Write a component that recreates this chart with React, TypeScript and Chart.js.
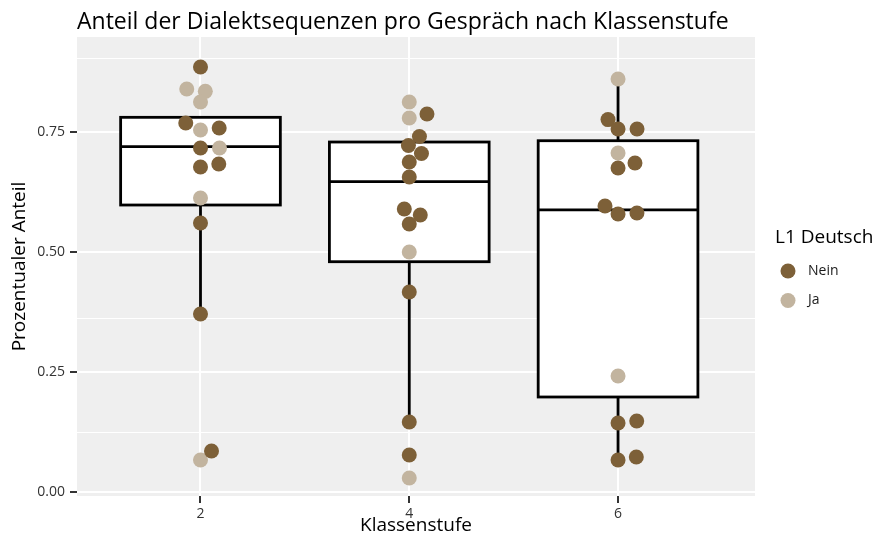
import React, { useEffect, useRef } from "react";
import { Chart, registerables } from "chart.js";

Chart.register(...registerables);

// ---------- text ----------
const chartTitle = "Anteil der Dialektsequenzen pro Gespräch nach Klassenstufe";
const xAxisTitle = "Klassenstufe";
const yAxisTitle = "Prozentualer Anteil";
const legendTitle = "L1 Deutsch";
const seriesNames = ["Nein", "Ja"];

// ---------- axes ----------
const grades = [2, 4, 6];
const xTicks = [2, 4, 6];
const yMajorTicks = [0, 0.25, 0.5, 0.75];
const yMinorLines = [0.125, 0.3625, 0.9025];

// ---------- points (share per conversation), one list per grade ----------
const neinValues = [
  [0.8841, 0.7677, 0.7573, 0.7158, 0.6825, 0.6763, 0.56, 0.3709, 0.0862],
  [0.7864, 0.7397, 0.721, 0.7043, 0.6867, 0.6555, 0.589, 0.5766, 0.5579, 0.4166, 0.1465, 0.0779],
  [0.7748, 0.7553, 0.7553, 0.6846, 0.6742, 0.5953, 0.5807, 0.5786, 0.1486, 0.1444, 0.0738, 0.0675],
];
const jaValues = [
  [0.8384, 0.8335, 0.8113, 0.7532, 0.7158, 0.6119, 0.0675],
  [0.8113, 0.7781, 0.4997, 0.0301],
  [0.8591, 0.7054, 0.2421],
];

// ---------- boxplot statistics per grade ----------
const boxQ1 = [0.5973, 0.4795, 0.1984];
const boxMedian = [0.7185, 0.6458, 0.587];
const boxQ3 = [0.7795, 0.7282, 0.7309];
const whiskerLow = [0.3709, 0.1465, 0.0675];
const whiskerHigh = [0.7795, 0.7282, 0.8591];

// ---------- style ----------
const FONT = "'Open Sans', sans-serif";
const colNein = "#7D6038";
const colJa = "#C2B49F";
const panelBg = "#EFEFEF";
const boxWidth = 1.53; // in grade units
const swarmSpacingX = 0.182; // grade units
const swarmSpacingY = 0.02295; // value units

function swarmOffsets(values: number[]): number[] {
  const order = values.map((_, i) => i).sort((a, b) => values[a] - values[b]);
  const placed: { y: number; x: number }[] = [];
  const out = new Array(values.length).fill(0);
  for (const i of order) {
    const y = values[i] / swarmSpacingY;
    const pre = placed.filter((p) => Math.abs(p.y - y) < 1);
    const plus = pre.map((p) => p.x + Math.sqrt(1 - (p.y - y) ** 2));
    const minus = pre.map((p) => p.x - Math.sqrt(1 - (p.y - y) ** 2));
    const cands = [0, ...plus, ...minus];
    let best = Infinity;
    for (const c of cands) {
      const bad = pre.some((p) => (c - p.x) ** 2 + (p.y - y) ** 2 < 0.999);
      if (!bad && Math.abs(c) < Math.abs(best)) best = c;
    }
    placed.push({ y, x: best });
    out[i] = best * swarmSpacingX;
  }
  return out;
}

function buildPoints() {
  const nein: { x: number; y: number }[] = [];
  const ja: { x: number; y: number }[] = [];
  grades.forEach((g, gi) => {
    const all = [...neinValues[gi], ...jaValues[gi]];
    const off = swarmOffsets(all);
    all.forEach((v, k) => {
      const pt = { x: g + off[k], y: v };
      if (k < neinValues[gi].length) nein.push(pt);
      else ja.push(pt);
    });
  });
  return { nein, ja };
}

const isMajorY = (v: number) => yMajorTicks.some((t) => Math.abs(t - v) < 1e-9);

const backgroundPlugin = {
  id: "panelBg",
  beforeDraw(chart: any) {
    const { ctx, chartArea } = chart;
    ctx.save();
    ctx.fillStyle = panelBg;
    ctx.fillRect(chartArea.left, chartArea.top, chartArea.right - chartArea.left, chartArea.bottom - chartArea.top);
    ctx.restore();
  },
};

const boxPlugin = {
  id: "boxplot",
  beforeDatasetsDraw(chart: any) {
    const { ctx } = chart;
    const xs = chart.scales.x;
    const ys = chart.scales.y;
    ctx.save();
    ctx.strokeStyle = "#000";
    ctx.lineWidth = 2.8;
    ctx.lineCap = "butt";
    grades.forEach((g, i) => {
      const cx = xs.getPixelForValue(g);
      const l = xs.getPixelForValue(g - boxWidth / 2);
      const r = xs.getPixelForValue(g + boxWidth / 2);
      const yq1 = ys.getPixelForValue(boxQ1[i]);
      const yq3 = ys.getPixelForValue(boxQ3[i]);
      const ymed = ys.getPixelForValue(boxMedian[i]);
      const ylo = ys.getPixelForValue(whiskerLow[i]);
      const yhi = ys.getPixelForValue(whiskerHigh[i]);
      ctx.beginPath();
      if (whiskerLow[i] < boxQ1[i]) {
        ctx.moveTo(cx, yq1);
        ctx.lineTo(cx, ylo);
      }
      if (whiskerHigh[i] > boxQ3[i]) {
        ctx.moveTo(cx, yq3);
        ctx.lineTo(cx, yhi);
      }
      ctx.stroke();
      ctx.fillStyle = "#FFFFFF";
      ctx.fillRect(l, yq3, r - l, yq1 - yq3);
      ctx.strokeRect(l, yq3, r - l, yq1 - yq3);
      ctx.beginPath();
      ctx.moveTo(l, ymed);
      ctx.lineTo(r, ymed);
      ctx.stroke();
    });
    ctx.restore();
  },
};

const legendPlugin = {
  id: "customLegend",
  afterDraw(chart: any) {
    const { ctx, chartArea } = chart;
    const x0 = chartArea.right + 20;
    ctx.save();
    ctx.fillStyle = "#000";
    ctx.font = `19px ${FONT}`;
    ctx.textAlign = "left";
    ctx.textBaseline = "alphabetic";
    ctx.fillText(legendTitle, x0, 243);
    const colors = [colNein, colJa];
    seriesNames.forEach((name, i) => {
      const cy = 271 + i * 29.5;
      ctx.beginPath();
      ctx.fillStyle = colors[i];
      ctx.arc(x0 + 13, cy, 7.5, 0, Math.PI * 2);
      ctx.fill();
      ctx.fillStyle = "#1A1A1A";
      ctx.font = `14px ${FONT}`;
      ctx.textBaseline = "middle";
      ctx.fillText(name, x0 + 33, cy);
    });
    ctx.restore();
  },
};

export default function App() {
  const ref = useRef<HTMLCanvasElement>(null);
  useEffect(() => {
    if (!ref.current) return;
    const { nein, ja } = buildPoints();
    const chart = new Chart(ref.current, {
      type: "scatter",
      data: {
        datasets: [
          { label: seriesNames[0], data: nein, backgroundColor: colNein, borderWidth: 0, pointRadius: 7.5, pointHoverRadius: 7.5 },
          { label: seriesNames[1], data: ja, backgroundColor: colJa, borderWidth: 0, pointRadius: 7.5, pointHoverRadius: 7.5 },
        ],
      },
      options: {
        responsive: false,
        animation: false,
        events: [],
        layout: { padding: { left: 0, right: 126, top: 0, bottom: 0 } },
        plugins: {
          legend: { display: false },
          tooltip: { enabled: false },
          title: {
            display: true,
            text: chartTitle,
            align: "start",
            fullSize: false,
            color: "#000",
            font: { family: FONT, size: 23, weight: "normal" },
            padding: { top: 9, bottom: 0.4 },
          },
        },
        scales: {
          x: {
            type: "linear",
            min: 0.817,
            max: 7.312,
            afterBuildTicks: (s: any) => {
              s.ticks = xTicks.map((v) => ({ value: v }));
            },
            afterFit: (s: any) => {
              s.height = 42;
            },
            ticks: {
              autoSkip: false,
              maxRotation: 0,
              padding: 3,
              color: "#333333",
              font: { family: FONT, size: 14 },
              callback: (v: any) => String(v),
            },
            grid: { color: "#FFFFFF", lineWidth: 2, tickColor: "#333333", tickLength: 7, tickWidth: 2 },
            border: { display: false },
            title: {
              display: true,
              text: xAxisTitle,
              color: "#000",
              font: { family: FONT, size: 19, weight: "normal" },
              padding: { top: 0, bottom: 1 },
            },
          },
          y: {
            type: "linear",
            min: -0.0073,
            max: 0.9464,
            afterBuildTicks: (s: any) => {
              s.ticks = [...yMajorTicks, ...yMinorLines].sort((a, b) => a - b).map((v) => ({ value: v }));
            },
            afterFit: (s: any) => {
              s.width = 77;
            },
            ticks: {
              autoSkip: false,
              padding: 5,
              color: "#333333",
              font: { family: FONT, size: 14 },
              callback: (v: any) => (isMajorY(v) ? Number(v).toFixed(2) : ""),
            },
            grid: {
              color: "#FFFFFF",
              lineWidth: (c: any) => (c.tick && isMajorY(c.tick.value) ? 2 : 1),
              tickColor: (c: any) => (c.tick && isMajorY(c.tick.value) ? "#333333" : "rgba(0,0,0,0)"),
              tickLength: 7,
              tickWidth: 2,
            },
            border: { display: false },
            title: {
              display: true,
              text: yAxisTitle,
              color: "#000",
              font: { family: FONT, size: 19, weight: "normal" },
              padding: { top: 8, bottom: 0 },
            },
          },
        },
      },
      plugins: [backgroundPlugin, boxPlugin, legendPlugin],
    } as any);
    return () => chart.destroy();
  }, []);
  return (
    <div style={{ position: "fixed", left: 0, top: 0, width: 881, height: 538, background: "#fff" }}>
      <canvas ref={ref} width={881} height={538} style={{ display: "block", width: 881, height: 538 }} />
    </div>
  );
}
